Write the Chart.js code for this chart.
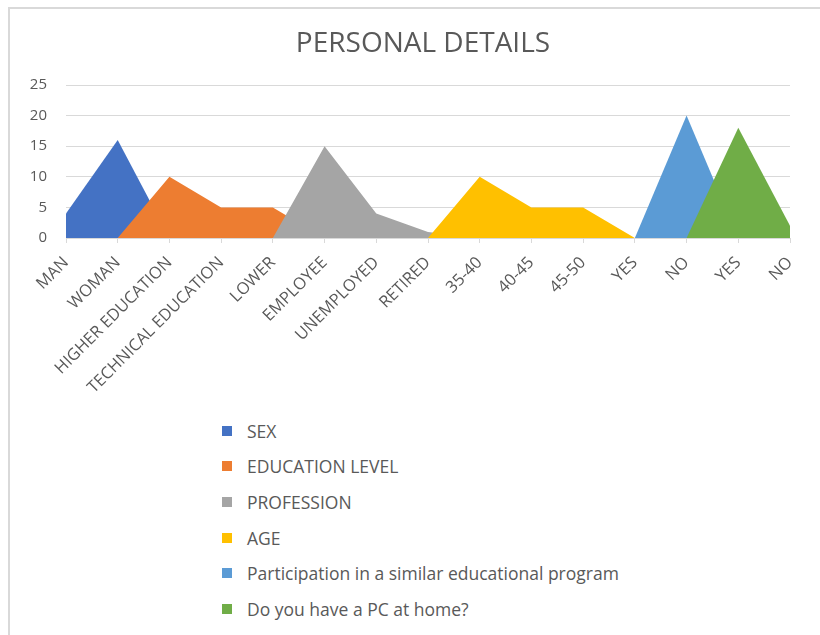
<!DOCTYPE html>
<html>
<head>
<meta charset="utf-8">
<script src="https://cdn.jsdelivr.net/npm/chart.js@4.4.1/dist/chart.umd.min.js"></script>
<style>
  html, body { margin: 0; padding: 0; background: #ffffff; }
  #wrap { position: relative; width: 820px; height: 635px; overflow: hidden; background: #fff; }
  #frame { position: absolute; left: 8px; top: 7px; width: 900px; height: 700px;
           border-left: 2px solid #d9d9d9; border-top: 2px solid #d9d9d9; box-sizing: border-box; }
  #chart { position: absolute; left: 0; top: 0; }
  #title { position: absolute; left: 26px; width: 794px; top: 22px; text-align: center;
           font-family: "Open Sans", sans-serif; font-size: 28px; line-height: 38px; color: #595959; }
  #legend { position: absolute; left: 222px; top: 413px; margin: 0; padding: 0; list-style: none;
            font-family: "Open Sans", sans-serif; font-size: 17.5px; color: #595959; }
  #legend li { height: 35.6px; display: flex; align-items: center; white-space: nowrap; }
  #legend .box { width: 10px; height: 10px; margin-right: 15px; flex: none; }
</style>
</head>
<body>
<div id="wrap">
  <div id="frame"></div>
  <canvas id="chart" width="820" height="400"></canvas>
  <div id="title"></div>
  <ul id="legend"></ul>
</div>
<script>
// ---- data ----
const chartTitle = 'PERSONAL DETAILS';
const categories = ['MAN', 'WOMAN', 'HIGHER EDUCATION', 'TECHNICAL EDUCATION', 'LOWER',
  'EMPLOYEE', 'UNEMPLOYED', 'RETIRED', '35-40', '40-45', '45-50', 'YES', 'NO', 'YES', 'NO'];
const seriesNames = ['SEX', 'EDUCATION LEVEL', 'PROFESSION', 'AGE',
  'Participation in a similar educational program', 'Do you have a PC at home?'];
const sexValues           = [4, 16, 0, null, null, null, null, null, null, null, null, null, null, null, null];
const educationValues     = [null, 0, 10, 5, 5, 0, null, null, null, null, null, null, null, null, null];
const professionValues    = [null, null, null, null, 0, 15, 4, 1, 0, null, null, null, null, null, null];
const ageValues           = [null, null, null, null, null, null, null, 0, 10, 5, 5, 0, null, null, null];
const participationValues = [null, null, null, null, null, null, null, null, null, null, null, 0, 20, 0, null];
const pcValues            = [null, null, null, null, null, null, null, null, null, null, null, null, 0, 18, 2];
const yTicks = [0, 5, 10, 15, 20, 25];

const colors = ['#4472C4', '#ED7D31', '#A5A5A5', '#FFC000', '#5B9BD5', '#70AD47'];
const allValues = [sexValues, educationValues, professionValues, ageValues, participationValues, pcValues];

const datasets = allValues.map((vals, i) => ({
  label: seriesNames[i],
  data: vals,
  backgroundColor: colors[i],
  borderColor: colors[i],
  borderWidth: 0,
  pointRadius: 0,
  pointHoverRadius: 0,
  fill: 'origin',
  tension: 0,
  spanGaps: false,
  order: allValues.length - i   // later series drawn on top, like the reference
}));

const gray = '#595959';
const gridColor = '#d9d9d9';

document.getElementById('title').textContent = chartTitle;

new Chart(document.getElementById('chart'), {
  type: 'line',
  data: { labels: categories, datasets },
  options: {
    responsive: false,
    animation: false,
    events: [],
    layout: { padding: { left: 8, right: 30, top: 85, bottom: 0 } },
    plugins: {
      legend: { display: false },
      tooltip: { enabled: false },
      title: { display: false }
    },
    scales: {
      x: {
        type: 'category',
        offset: false,
        grid: { display: true, drawOnChartArea: false, drawTicks: true, tickLength: 5, color: gridColor },
        border: { display: true, color: gridColor, width: 1 },
        ticks: {
          color: gray,
          font: { family: '"Open Sans", sans-serif', size: 16.5 },
          minRotation: 45, maxRotation: 45, autoSkip: false, padding: 10
        },
        afterFit: (scale) => { scale.height = 162; }
      },
      y: {
        min: 0, max: 25,
        afterBuildTicks: (scale) => { scale.ticks = yTicks.map(v => ({ value: v })); },
        grid: { color: gridColor, drawTicks: false, lineWidth: 1 },
        border: { display: false },
        ticks: {
          color: gray,
          font: { family: '"Open Sans", sans-serif', size: 15 },
          padding: 19
        },
        afterFit: (scale) => { scale.width = 58; }
      }
    }
  }
});

// HTML legend, one entry per line, built from the same series arrays
const legend = document.getElementById('legend');
seriesNames.forEach((name, i) => {
  const li = document.createElement('li');
  const box = document.createElement('span');
  box.className = 'box';
  box.style.background = colors[i];
  const txt = document.createElement('span');
  txt.textContent = name;
  li.appendChild(box);
  li.appendChild(txt);
  legend.appendChild(li);
});
</script>
</body>
</html>
